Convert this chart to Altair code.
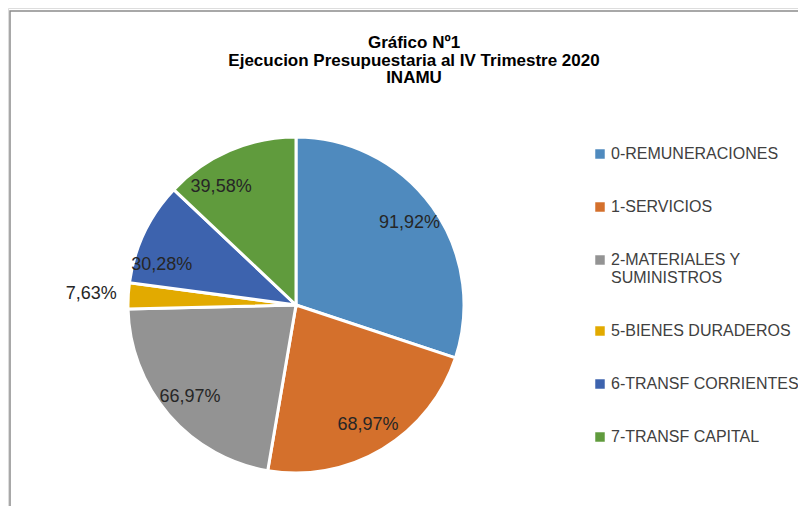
import altair as alt
import pandas as pd

categories = ["0-REMUNERACIONES", "1-SERVICIOS", "2-MATERIALES Y SUMINISTROS",
              "5-BIENES DURADEROS", "6-TRANSF CORRIENTES", "7-TRANSF CAPITAL"]
values = [91.92, 68.97, 66.97, 7.63, 30.28, 39.58]
labels = ["91,92%", "68,97%", "66,97%", "7,63%", "30,28%", "39,58%"]
colors = ["#4F8ABE", "#D4702C", "#939393", "#E2AA00", "#3D63AE", "#609B3D"]
title_lines = ["Gráfico Nº1", "Ejecucion Presupuestaria al IV Trimestre 2020", "INAMU"]

df = pd.DataFrame({"cat": categories, "val": values, "lab": labels,
                   "ord": list(range(len(categories)))})

CX, CY, R = 288, 297, 168

color = alt.Color("cat:N", sort=categories,
                  scale=alt.Scale(domain=categories, range=colors),
                  legend=alt.Legend(
                      title=None, orient="none", legendX=584, legendY=138,
                      symbolType="square", symbolSize=90, symbolStrokeWidth=0,
                      labelFontSize=16, labelFont="Liberation Sans",
                      labelColor="#404040", rowPadding=37, padding=0,
                      labelOffset=3, labelLimit=300,
                      labelExpr="datum.label == '2-MATERIALES Y SUMINISTROS' ? ['2-MATERIALES Y', 'SUMINISTROS'] : datum.label"))

base = alt.Chart(df).encode(
    theta=alt.Theta("val:Q", stack=True),
    order=alt.Order("ord:Q"),
)

pie = base.mark_arc(outerRadius=R, stroke="white", strokeWidth=3).encode(
    color=color, x=alt.value(CX), y=alt.value(CY))

inner = base.transform_filter("datum.val >= 10").mark_text(
    radius=140, fontSize=18, font="Liberation Sans", color="#262626").encode(
    text="lab:N", x=alt.value(CX), y=alt.value(CY))

outer = base.mark_text(
    radius=205, fontSize=18, font="Liberation Sans", color="#262626").encode(
    text=alt.condition("datum.val < 10", "lab:N", alt.value("")),
    x=alt.value(CX), y=alt.value(CY))

title = alt.Chart(df.head(1)).mark_text(
    text=title_lines, fontSize=17, font="Liberation Sans", fontWeight="bold",
    color="#000000", lineHeight=17.5, baseline="top", align="center").encode(
    x=alt.value(406), y=alt.value(27))

frame = alt.Chart(df.head(1)).mark_rect(
    fill="transparent", stroke="#8c8c8c", strokeWidth=1.5).encode(
    x=alt.value(2), x2=alt.value(840), y=alt.value(3), y2=alt.value(620))

chart = alt.layer(frame, title, pie, inner, outer).properties(
    width=790, height=498,
    autosize=alt.AutoSizeParams(type="none"),
    padding=0,
).configure_view(strokeWidth=0, stroke="transparent").configure(background="white")

chart.save("out.html", embed_options={"renderer": "svg", "actions": False})
